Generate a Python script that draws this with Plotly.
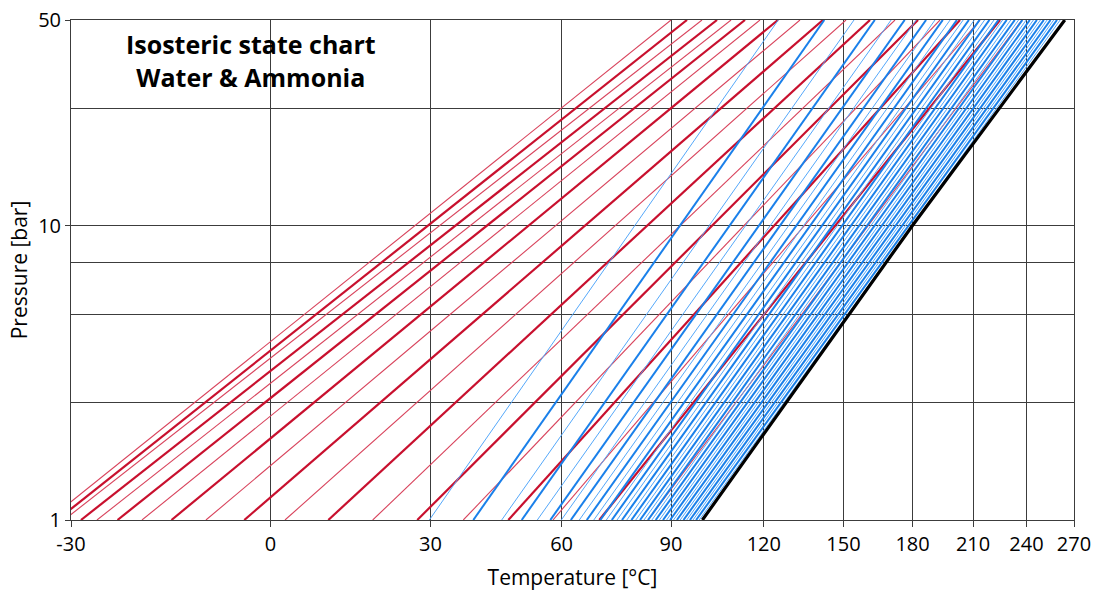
import math
import plotly.graph_objects as go

# ---------------- data ----------------
tick_temps = [-30, 0, 30, 60, 90, 120, 150, 180, 210, 240, 270]
tick_labels = ["-30", "0", "30", "60", "90", "120", "150", "180", "210", "240", "270"]
p_ticks = [1, 10, 50]
p_grid_minor = [2.5, 5, 7.5, 25]

# red isosteres: temperature [°C] at 1 bar and at 50 bar
red_t1 = [-33.0, -31.85, -30.94, -28.66, -26.47, -23.61, -20.11, -15.76, -10.48,
          -4.35, 2.48, 10.14, 18.45, 27.29, 37.0, 47.13, 57.85, 69.76, 83.24]
red_t50 = [89.99, 94.82, 99.48, 104.27, 108.84, 113.52, 118.65, 125.02, 133.07,
           141.86, 151.03, 161.05, 171.99, 182.56, 193.14, 203.2, 213.7, 224.71, 237.34]
red_thick = [i % 2 == 1 for i in range(len(red_t1))]

# blue isosteres: temperature [°C] at 1 bar and at 50 bar
blue_t1 = [29.77, 39.2, 45.6, 50.27, 54.01, 57.19, 59.93, 62.34, 64.52, 66.46,
           68.3, 70.03, 71.64, 73.12, 74.54, 75.91, 77.24, 78.53, 79.76, 80.96,
           82.09, 83.24, 84.37, 85.47, 86.55, 87.61, 88.68, 89.71, 90.73, 91.75,
           92.75, 93.75, 94.73, 95.72, 96.67, 97.64, 98.6]
blue_t50 = [125.13, 142.37, 154.32, 163.1, 170.24, 176.38, 181.71, 186.39, 190.69, 194.52,
            198.17, 201.61, 204.85, 207.82, 210.67, 213.49, 216.19, 218.81, 221.34, 223.79,
            226.15, 228.47, 230.82, 233.13, 235.34, 237.58, 239.84, 241.99, 244.17, 246.29,
            248.44, 250.55, 252.6, 254.74, 256.77, 258.87, 260.93]
blue_thick = [i % 2 == 1 for i in range(len(blue_t1))]

# water saturation line
water_p = [1.0, 10.0, 50.0]
water_t = [99.6, 179.9, 263.9]


def inv(t_c):
    """Clausius-Clapeyron abscissa: -1000/T[K]"""
    return -1000.0 / (t_c + 273.15)


fig = go.Figure()

for t1, t50, thick in zip(red_t1, red_t50, red_thick):
    fig.add_trace(go.Scatter(
        x=[inv(t1), inv(t50)], y=[1, 50], mode="lines",
        line=dict(color="#C8102E" if thick else "#D8435C", width=2.2 if thick else 1.1),
        showlegend=False, hoverinfo="skip"))

for t1, t50, thick in zip(blue_t1, blue_t50, blue_thick):
    fig.add_trace(go.Scatter(
        x=[inv(t1), inv(t50)], y=[1, 50], mode="lines",
        line=dict(color="#1A80EA" if thick else "#55A8FA", width=2.0 if thick else 1.0),
        showlegend=False, hoverinfo="skip"))

fig.add_trace(go.Scatter(
    x=[inv(t) for t in water_t], y=water_p, mode="lines",
    line=dict(color="black", width=3.2), showlegend=False, hoverinfo="skip"))

# white box behind the chart title
fig.add_shape(type="rect", xref="paper", yref="paper", x0=0.001, x1=0.33, y0=0.826, y1=0.998,
              fillcolor="white", line=dict(width=0), layer="between")

fig.add_annotation(
    xref="paper", yref="paper", x=0.1795, y=0.918, xanchor="center", yanchor="middle",
    text="<b>Isosteric state chart<br>Water &amp; Ammonia</b>", showarrow=False,
    font=dict(family="Open Sans", size=25, color="black"), align="center")

grid_col = "#3c3c3c"
fnt = "Open Sans"
fig.update_xaxes(
    range=[inv(-30), inv(270)], automargin=False,
    tickmode="array", tickvals=[inv(t) for t in tick_temps], ticktext=tick_labels,
    showgrid=True, gridcolor=grid_col, gridwidth=1,
    ticks="outside", ticklen=6, tickcolor=grid_col,
    showline=True, linecolor=grid_col, linewidth=1, mirror=True,
    zeroline=False,
    tickfont=dict(family=fnt, size=20, color="black"),
    title=dict(text="Temperature [°C]", font=dict(family=fnt, size=21, color="black"),
               standoff=15),
)
fig.update_yaxes(
    type="log", range=[0, math.log10(50) + 1e-9], automargin=False,
    tickmode="array", tickvals=p_ticks, ticktext=[str(v) for v in p_ticks],
    showgrid=True, gridcolor=grid_col, gridwidth=1,
    minor=dict(tickmode="array", tickvals=p_grid_minor, showgrid=True,
               gridcolor=grid_col, gridwidth=1, ticklen=0),
    ticks="outside", ticklen=5, tickcolor=grid_col,
    showline=True, linecolor=grid_col, linewidth=1, mirror=True,
    zeroline=False,
    tickfont=dict(family=fnt, size=20, color="black"),
    title=dict(text="Pressure [bar]", font=dict(family=fnt, size=21, color="black"),
               standoff=4),
)

fig.update_layout(
    width=1094, height=591,
    margin=dict(l=71, r=20, t=20, b=71, autoexpand=False),
    plot_bgcolor="white", paper_bgcolor="white",
)

fig.write_html(
    "out.html",
    config={"displayModeBar": False},
    post_script="document.body.style.margin='0';document.body.style.overflow='hidden';",
)
